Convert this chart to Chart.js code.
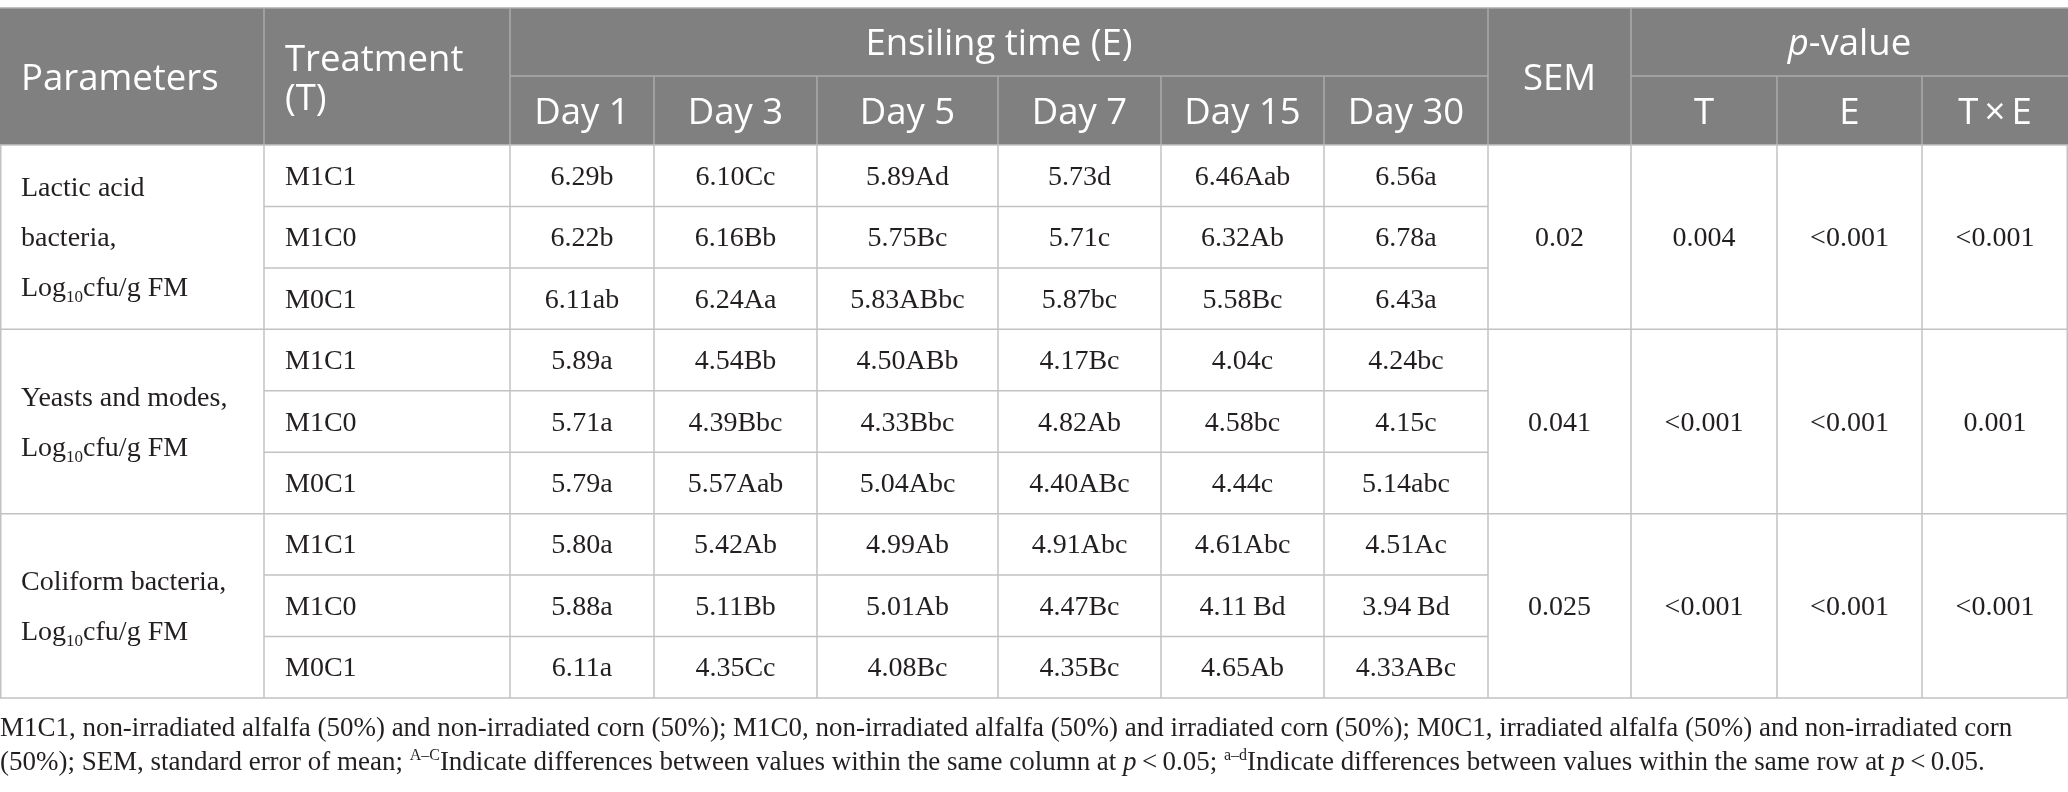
<!DOCTYPE html>
<html>
<head>
<meta charset="utf-8">
<script src="https://cdn.jsdelivr.net/npm/chart.js@4/dist/chart.umd.min.js"></script>
<style>
  html, body { margin: 0; padding: 0; background: #fff; }
  canvas { display: block; }
</style>
</head>
<body>
<canvas id="tabla" width="2068" height="792"></canvas>
<script>
// datos de la tabla
const parametros = ['Lactic acid bacteria', 'Yeasts and modes', 'Coliform bacteria'];
const tratamientos = ['M1C1', 'M1C0', 'M0C1'];
const dias = ['Day 1', 'Day 3', 'Day 5', 'Day 7', 'Day 15', 'Day 30'];

const labValores = [
    [6.29, 6.10, 5.89, 5.73, 6.46, 6.56],
    [6.22, 6.16, 5.75, 5.71, 6.32, 6.78],
    [6.11, 6.24, 5.83, 5.87, 5.58, 6.43]
];
const labLetras = [
    ['b', 'Cc', 'Ad', 'd', 'Aab', 'a'],
    ['b', 'Bb', 'Bc', 'c', 'Ab', 'a'],
    ['ab', 'Aa', 'ABbc', 'bc', 'Bc', 'a']
];
const levValores = [
    [5.89, 4.54, 4.50, 4.17, 4.04, 4.24],
    [5.71, 4.39, 4.33, 4.82, 4.58, 4.15],
    [5.79, 5.57, 5.04, 4.40, 4.44, 5.14]
];
const levLetras = [
    ['a', 'Bb', 'ABb', 'Bc', 'c', 'bc'],
    ['a', 'Bbc', 'Bbc', 'Ab', 'bc', 'c'],
    ['a', 'Aab', 'Abc', 'ABc', 'c', 'abc']
];
const colValores = [
    [5.80, 5.42, 4.99, 4.91, 4.61, 4.51],
    [5.88, 5.11, 5.01, 4.47, 4.11, 3.94],
    [6.11, 4.35, 4.08, 4.35, 4.65, 4.33]
];
const colLetras = [
    ['a', 'Ab', 'Ab', 'Abc', 'Abc', 'Ac'],
    ['a', 'Bb', 'Ab', 'Bc', '\u2009Bd', '\u2009Bd'],
    ['a', 'Cc', 'Bc', 'Bc', 'Ab', 'ABc']
];
const sem = ['0.02', '0.041', '0.025'];
const pT = ['0.004', '<0.001', '<0.001'];
const pE = ['<0.001', '<0.001', '<0.001'];
const pTxE = ['<0.001', '0.001', '<0.001'];

const valores = [labValores, levValores, colValores];
const letras = [labLetras, levLetras, colLetras];
const pValores = [pT, pE, pTxE];

// etiquetas de filas (una por fila de datos)
const filas = [];
parametros.forEach(p => tratamientos.forEach(t => filas.push(p + ' ' + t)));

// diseño
const anchos = [264, 246, 144, 163, 181, 163, 163, 164, 143, 146, 145, 146];
const bordeSup = 8;
const fondoHeader = '#808080';
const lineaHeader = '#ababab';
const lineaCuerpo = '#c2c2c2';
const colorTexto = '#231f20';
const sans = '"Open Sans", "Noto Sans", sans-serif';
const serif = '"Liberation Serif", "DejaVu Serif", serif';

const textoParam = [
    [[{ t: 'Lactic acid' }], [{ t: 'bacteria,' }], [{ t: 'Log' }, { t: '10', sub: true }, { t: 'cfu/g FM' }]],
    [[{ t: 'Yeasts and modes,' }], [{ t: 'Log' }, { t: '10', sub: true }, { t: 'cfu/g FM' }]],
    [[{ t: 'Coliform bacteria,' }], [{ t: 'Log' }, { t: '10', sub: true }, { t: 'cfu/g FM' }]]
];

const nota1 = [{ t: 'M1C1, non-irradiated alfalfa (50%) and non-irradiated corn (50%); M1C0, non-irradiated alfalfa (50%) and irradiated corn (50%); M0C1, irradiated alfalfa (50%) and non-irradiated corn' }];
const nota2 = [
    { t: '(50%); SEM, standard error of mean; ' }, { t: 'A\u2013C', sup: true },
    { t: 'Indicate differences between values within the same column at ' }, { t: 'p', it: true },
    { t: '\u2009<\u20090.05; ' }, { t: 'a\u2013d', sup: true },
    { t: 'Indicate differences between values within the same row at ' }, { t: 'p', it: true },
    { t: '\u2009<\u20090.05.' }
];

function fuente(seg, size, familia) {
    let s = size;
    if (seg.sub || seg.sup) s = Math.round(size * 0.6);
    return (seg.it ? 'italic ' : '') + s + 'px ' + familia;
}

function anchoRico(ctx, segs, size, familia) {
    let w = 0;
    segs.forEach(seg => { ctx.font = fuente(seg, size, familia); w += ctx.measureText(seg.t).width; });
    return w;
}

// dibuja texto con sub/superindices; align: left | center
function textoRico(ctx, segs, x, y, size, familia, align) {
    let cx = x;
    if (align === 'center') cx = x - anchoRico(ctx, segs, size, familia) / 2;
    ctx.textAlign = 'left';
    ctx.textBaseline = 'alphabetic';
    segs.forEach(seg => {
        ctx.font = fuente(seg, size, familia);
        let dy = 0;
        if (seg.sub) dy = size * 0.22;
        if (seg.sup) dy = -size * 0.36;
        ctx.fillText(seg.t, cx, y + dy);
        cx += ctx.measureText(seg.t).width;
    });
}

function linea(ctx, x1, y1, x2, y2) {
    ctx.beginPath();
    ctx.moveTo(x1, y1);
    ctx.lineTo(x2, y2);
    ctx.stroke();
}

const tablaPlugin = {
    id: 'tabla',
    afterDraw: (chart) => {
        const { ctx, chartArea, scales } = chart;
        const xs = scales.x;
        const ys = scales.y;

        // bordes de columnas en pixeles a partir de la escala x
        const bordes = [xs.getPixelForValue(0)];
        let acum = 0;
        anchos.forEach(a => { acum += a; bordes.push(xs.getPixelForValue(acum)); });

        const altoFila = ys.getPixelForValue(1) - ys.getPixelForValue(0);
        const centroFila = i => ys.getPixelForValue(i);
        const topFila = i => centroFila(i) - altoFila / 2;

        const yTop = bordeSup;
        const yHead = chartArea.top;
        const yMid = (yTop + yHead) / 2 - 0.5;
        const yBot = topFila(filas.length);
        const der = bordes[bordes.length - 1];

        ctx.save();
        ctx.fillStyle = '#fff';
        ctx.fillRect(0, 0, chart.width, chart.height);

        // encabezado
        ctx.fillStyle = fondoHeader;
        ctx.fillRect(bordes[0], yTop, der - bordes[0], yHead - yTop);

        ctx.strokeStyle = lineaHeader;
        ctx.lineWidth = 1.5;
        linea(ctx, bordes[2], yMid, bordes[8], yMid);
        linea(ctx, bordes[9], yMid, der, yMid);
        [1, 2, 8, 9].forEach(c => linea(ctx, bordes[c], yTop, bordes[c], yHead));
        [3, 4, 5, 6, 7, 10, 11].forEach(c => linea(ctx, bordes[c], yMid, bordes[c], yHead));
        linea(ctx, bordes[0], yTop, der, yTop);

        ctx.fillStyle = '#fff';
        const hs = 36.5;
        const cMid = (a, b) => (a + b) / 2;
        textoRico(ctx, [{ t: 'Parameters' }], bordes[0] + 21, (yTop + yHead) / 2 + 13, hs, sans, 'left');
        textoRico(ctx, [{ t: 'Treatment' }], bordes[1] + 21, (yTop + yHead) / 2 - 6, hs, sans, 'left');
        textoRico(ctx, [{ t: '(T)' }], bordes[1] + 21, (yTop + yHead) / 2 + 33, hs, sans, 'left');
        textoRico(ctx, [{ t: 'Ensiling time (E)' }], cMid(bordes[2], bordes[8]), cMid(yTop, yMid) + 13, hs, sans, 'center');
        dias.forEach((d, i) => {
            textoRico(ctx, [{ t: d }], cMid(bordes[2 + i], bordes[3 + i]), cMid(yMid, yHead) + 13, hs, sans, 'center');
        });
        textoRico(ctx, [{ t: 'SEM' }], cMid(bordes[8], bordes[9]), (yTop + yHead) / 2 + 13, hs, sans, 'center');
        textoRico(ctx, [{ t: 'p', it: true }, { t: '-value' }], cMid(bordes[9], der), cMid(yTop, yMid) + 13, hs, sans, 'center');
        ['T', 'E', 'T\u2009\u00d7\u2009E'].forEach((t, i) => {
            textoRico(ctx, [{ t: t }], cMid(bordes[9 + i], bordes[10 + i]), cMid(yMid, yHead) + 13, hs, sans, 'center');
        });

        // lineas del cuerpo
        ctx.strokeStyle = lineaCuerpo;
        ctx.lineWidth = 1.5;
        for (let i = 0; i <= filas.length; i++) {
            const y = topFila(i);
            if (i % 3 === 0) linea(ctx, bordes[0], y, der, y);
            else linea(ctx, bordes[1], y, bordes[8], y);
        }
        bordes.forEach((b, c) => {
            if (c === 0 || c === bordes.length - 1) return;
            linea(ctx, b, yHead, b, yBot);
        });
        linea(ctx, bordes[0] + 0.75, yHead, bordes[0] + 0.75, yBot);
        linea(ctx, der - 0.75, yHead, der - 0.75, yBot);

        // texto del cuerpo
        ctx.fillStyle = colorTexto;
        const bs = 28;
        parametros.forEach((p, g) => {
            const cy = (topFila(g * 3) + topFila(g * 3 + 3)) / 2;
            const lineas = textoParam[g];
            const paso = 50;
            lineas.forEach((l, k) => {
                const y = cy + (k - (lineas.length - 1) / 2) * paso + 9;
                textoRico(ctx, l, bordes[0] + 21, y, bs, serif, 'left');
            });
            tratamientos.forEach((t, r) => {
                const fila = g * 3 + r;
                const y = centroFila(fila) + 9;
                textoRico(ctx, [{ t: t }], bordes[1] + 21, y, bs, serif, 'left');
                dias.forEach((d, c) => {
                    const txt = valores[g][r][c].toFixed(2) + letras[g][r][c];
                    textoRico(ctx, [{ t: txt }], cMid(bordes[2 + c], bordes[3 + c]), y, bs, serif, 'center');
                });
            });
            textoRico(ctx, [{ t: sem[g] }], cMid(bordes[8], bordes[9]), cy + 9, bs, serif, 'center');
            pValores.forEach((pv, k) => {
                textoRico(ctx, [{ t: pv[g] }], cMid(bordes[9 + k], bordes[10 + k]), cy + 9, bs, serif, 'center');
            });
        });

        // nota al pie
        const objetivo = 2013;
        let ns = 27;
        const w = anchoRico(ctx, nota1, ns, serif);
        ns = ns * objetivo / w;
        textoRico(ctx, nota1, bordes[0], yBot + 38, ns, serif, 'left');
        textoRico(ctx, nota2, bordes[0], yBot + 72, ns, serif, 'left');

        ctx.restore();
    }
};

const ctx = document.getElementById('tabla').getContext('2d');
const miTabla = new Chart(ctx, {
    type: 'scatter',
    data: { datasets: [] },
    options: {
        responsive: false,
        animation: false,
        devicePixelRatio: 1,
        layout: { padding: { top: 145, bottom: 94, left: 0, right: 0 } },
        plugins: { legend: { display: false }, tooltip: { enabled: false } },
        scales: {
            x: { type: 'linear', display: false, min: 0, max: anchos.reduce((a, b) => a + b, 0) },
            y: { type: 'category', labels: filas, display: false, offset: true }
        }
    },
    plugins: [tablaPlugin]
});
</script>
</body>
</html>
